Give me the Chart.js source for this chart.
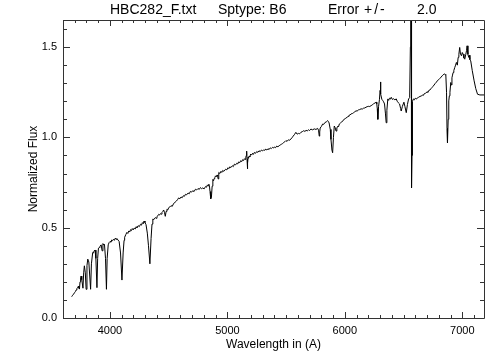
<!DOCTYPE html>
<html>
<head>
<meta charset="utf-8">
<script src="https://cdn.jsdelivr.net/npm/chart.js@4.4.1/dist/chart.umd.min.js"></script>
<style>
  html, body { margin: 0; padding: 0; background: #fff; }
  #wrap { width: 504px; height: 360px; }
</style>
</head>
<body>
<div id="wrap"><canvas id="spec"></canvas></div>
<script>
// spectrum (Angstrom, normalized flux)
const wavelength = [
  3674, 3682, 3690, 3698, 3705, 3712, 3718, 3725, 3731, 3736,
  3740, 3745, 3750, 3754, 3760, 3770, 3776, 3782, 3790, 3797,
  3804, 3811, 3820, 3835, 3842, 3853, 3860, 3865, 3873, 3880,
  3889, 3895, 3902, 3910, 3915, 3925, 3933, 3940, 3947, 3953,
  3962, 3970, 3976, 3985, 3993, 4001, 4008, 4015, 4022, 4030,
  4038, 4045, 4052, 4059, 4068, 4078, 4090, 4102, 4112, 4120,
  4125, 4135, 4144, 4152, 4160, 4168, 4175, 4183, 4190, 4198,
  4206, 4215, 4223, 4230, 4240, 4250, 4260, 4268, 4276, 4284,
  4290, 4298, 4307, 4318, 4328, 4340, 4350, 4358, 4365, 4374,
  4386, 4394, 4400, 4408, 4415, 4422, 4430, 4437, 4443, 4450,
  4457, 4464, 4471, 4478, 4485, 4492, 4500, 4510, 4520, 4530,
  4543, 4553, 4565, 4575, 4585, 4595, 4605, 4615, 4625, 4634,
  4643, 4653, 4665, 4675, 4685, 4695, 4705, 4716, 4728, 4738,
  4750, 4760, 4770, 4780, 4790, 4802, 4814, 4822, 4830, 4836,
  4842, 4848, 4852, 4858, 4864, 4870, 4876, 4882, 4887, 4893,
  4899, 4905, 4912, 4917, 4921, 4925, 4928, 4936, 4945, 4952,
  4960, 4970, 4985, 4995, 5005, 5012, 5020, 5030, 5042, 5050,
  5060, 5070, 5080, 5088, 5095, 5105, 5113, 5122, 5130, 5138,
  5145, 5150, 5156, 5161, 5164, 5167, 5170, 5173, 5176, 5180,
  5185, 5191, 5198, 5206, 5215, 5222, 5230, 5240, 5250, 5259,
  5269, 5279, 5290, 5300, 5310, 5318, 5327, 5336, 5345, 5355,
  5365, 5374, 5384, 5392, 5400, 5410, 5420, 5430, 5441, 5450,
  5460, 5470, 5480, 5489, 5498, 5508, 5520, 5530, 5540, 5550,
  5560, 5570, 5583, 5594, 5605, 5615, 5626, 5638, 5650, 5660,
  5670, 5680, 5690, 5700, 5711, 5725, 5740, 5754, 5768, 5776,
  5782, 5786, 5790, 5800, 5811, 5820, 5830, 5842, 5854, 5860,
  5866, 5876, 5882, 5890, 5896, 5903, 5910, 5917, 5925, 5932,
  5940, 5946, 5953, 5963, 5975, 5985, 5996, 6008, 6020, 6028,
  6035, 6044, 6053, 6064, 6075, 6085, 6095, 6105, 6115, 6126,
  6138, 6149, 6160, 6170, 6180, 6190, 6200, 6212, 6224, 6235,
  6245, 6256, 6267, 6272, 6276, 6281, 6287, 6295, 6300, 6303,
  6307, 6315, 6322, 6330, 6338, 6346, 6352, 6358, 6366, 6373,
  6380, 6388, 6395, 6405, 6415, 6426, 6438, 6446, 6455, 6466,
  6475, 6480, 6490, 6503, 6512, 6523, 6533, 6543, 6552, 6558,
  6561, 6564, 6567, 6569, 6572, 6576, 6584, 6592, 6600, 6609,
  6618, 6628, 6640, 6650, 6660, 6668, 6675, 6688, 6700, 6708,
  6715, 6724, 6732, 6741, 6750, 6760, 6770, 6780, 6789, 6800,
  6810, 6820, 6830, 6838, 6846, 6853, 6860, 6866, 6870, 6874,
  6880, 6885, 6890, 6895, 6902, 6907, 6912, 6917, 6922, 6928,
  6936, 6943, 6950, 6958, 6965, 6971, 6978, 6985, 6993, 7000,
  7007, 7014, 7021, 7030, 7036, 7041, 7048, 7055, 7060, 7065,
  7072, 7085, 7101, 7115, 7130, 7150, 7185
];
const flux = [
  0.118, 0.126, 0.132, 0.140, 0.146, 0.155, 0.162, 0.170, 0.176, 0.165,
  0.160, 0.200, 0.225, 0.232, 0.212, 0.165, 0.250, 0.289, 0.250, 0.159,
  0.290, 0.326, 0.310, 0.159, 0.300, 0.363, 0.360, 0.372, 0.376, 0.330,
  0.168, 0.330, 0.387, 0.390, 0.398, 0.405, 0.372, 0.412, 0.404, 0.408,
  0.330, 0.159, 0.330, 0.405, 0.418, 0.424, 0.420, 0.432, 0.428, 0.436,
  0.430, 0.442, 0.436, 0.440, 0.432, 0.424, 0.360, 0.210, 0.360, 0.430,
  0.447, 0.462, 0.474, 0.468, 0.482, 0.476, 0.489, 0.484, 0.495, 0.488,
  0.498, 0.493, 0.505, 0.500, 0.511, 0.506, 0.519, 0.514, 0.528, 0.522,
  0.537, 0.528, 0.517, 0.470, 0.400, 0.300, 0.440, 0.520, 0.548, 0.545,
  0.556, 0.552, 0.562, 0.566, 0.574, 0.570, 0.578, 0.575, 0.585, 0.590,
  0.598, 0.585, 0.563, 0.590, 0.602, 0.598, 0.611, 0.615, 0.622, 0.618,
  0.635, 0.640, 0.647, 0.655, 0.665, 0.660, 0.670, 0.666, 0.677, 0.674,
  0.685, 0.682, 0.692, 0.688, 0.701, 0.697, 0.705, 0.700, 0.713, 0.709,
  0.717, 0.712, 0.722, 0.716, 0.720, 0.715, 0.728, 0.724, 0.737, 0.732,
  0.741, 0.725, 0.700, 0.660, 0.670, 0.730, 0.767, 0.760, 0.772, 0.778,
  0.787, 0.782, 0.792, 0.785, 0.770, 0.795, 0.806, 0.800, 0.812, 0.806,
  0.817, 0.812, 0.824, 0.820, 0.832, 0.827, 0.837, 0.833, 0.843, 0.838,
  0.852, 0.848, 0.857, 0.853, 0.864, 0.860, 0.871, 0.866, 0.877, 0.872,
  0.882, 0.878, 0.889, 0.900, 0.924, 0.880, 0.826, 0.860, 0.890, 0.885,
  0.897, 0.892, 0.908, 0.902, 0.912, 0.906, 0.917, 0.912, 0.922, 0.917,
  0.926, 0.921, 0.930, 0.925, 0.932, 0.928, 0.935, 0.930, 0.937, 0.933,
  0.942, 0.938, 0.945, 0.941, 0.947, 0.943, 0.952, 0.948, 0.954, 0.958,
  0.962, 0.966, 0.972, 0.976, 0.982, 0.978, 0.987, 0.984, 0.991, 0.998,
  1.007, 1.015, 1.028, 1.018, 1.022, 1.020, 1.028, 1.032, 1.037, 1.033,
  1.039, 1.036, 1.042, 1.038, 1.046, 1.042, 1.047, 1.044, 1.050, 1.040,
  1.007, 1.030, 1.052, 1.060, 1.074, 1.072, 1.082, 1.086, 1.093, 1.088,
  1.080, 1.044, 0.989, 0.930, 0.915, 1.000, 1.063, 1.055, 1.035, 1.052,
  1.062, 1.058, 1.074, 1.080, 1.087, 1.092, 1.102, 1.106, 1.112, 1.116,
  1.122, 1.124, 1.130, 1.132, 1.137, 1.142, 1.147, 1.146, 1.152, 1.154,
  1.158, 1.157, 1.162, 1.163, 1.167, 1.170, 1.172, 1.171, 1.176, 1.180,
  1.187, 1.190, 1.195, 1.185, 1.160, 1.100, 1.170, 1.211, 1.260, 1.307,
  1.240, 1.211, 1.205, 1.197, 1.185, 1.130, 1.081, 1.150, 1.213, 1.205,
  1.217, 1.212, 1.222, 1.210, 1.214, 1.208, 1.213, 1.200, 1.192, 1.185,
  1.160, 1.146, 1.172, 1.195, 1.170, 1.137, 1.182, 1.213, 1.220, 1.500,
  2.200, 2.400, 1.600, 0.720, 0.900, 1.200, 1.213, 1.208, 1.217, 1.212,
  1.219, 1.222, 1.227, 1.229, 1.234, 1.232, 1.241, 1.245, 1.252, 1.250,
  1.260, 1.262, 1.269, 1.275, 1.282, 1.290, 1.299, 1.306, 1.315, 1.320,
  1.327, 1.334, 1.342, 1.346, 1.352, 1.348, 1.345, 1.250, 1.050, 0.970,
  1.100, 1.202, 1.230, 1.250, 1.304, 1.290, 1.330, 1.345, 1.359, 1.370,
  1.387, 1.400, 1.415, 1.400, 1.443, 1.460, 1.498, 1.460, 1.452, 1.470,
  1.461, 1.440, 1.433, 1.460, 1.480, 1.507, 1.460, 1.443, 1.455, 1.430,
  1.424, 1.370, 1.313, 1.270, 1.239, 1.235, 1.235
];
const xTickLabels = ["4000", "5000", "6000", "7000"];
const yTickLabels = ["0.0", "0.5", "1.0", "1.5"];
// header pieces, IDL puts them at fixed spots along the top
const titleParts = ["HBC282_F.txt", "Sptype: B6", "Error", "+/-", "2.0"];
const titleX = [110, 218, 328, 364, 417];

const FONT = "'Liberation Sans', Arial, Helvetica, sans-serif";

// IDL style box: ticks pointing inward on all four sides, header on top
const idlBox = {
  id: "idlBox",
  afterDraw(chart) {
    const { ctx, chartArea: a, scales: { x, y } } = chart;
    ctx.save();
    ctx.strokeStyle = "#333";
    ctx.lineWidth = 1;
    ctx.beginPath();
    ctx.rect(Math.round(a.left) + 0.5, Math.round(a.top) + 0.5,
             Math.round(a.right - a.left), Math.round(a.bottom - a.top));
    x.ticks.forEach(t => {
      const px = Math.round(x.getPixelForValue(t.value)) + 0.5;
      const len = t.label ? 6 : 3;
      ctx.moveTo(px, a.bottom); ctx.lineTo(px, a.bottom - len);
      ctx.moveTo(px, a.top); ctx.lineTo(px, a.top + len);
    });
    y.ticks.forEach(t => {
      const py = Math.round(y.getPixelForValue(t.value)) + 0.5;
      const len = t.label ? 7 : 4;
      ctx.moveTo(a.left, py); ctx.lineTo(a.left + len, py);
      ctx.moveTo(a.right, py); ctx.lineTo(a.right - len, py);
    });
    ctx.stroke();

    ctx.fillStyle = "#000";
    ctx.font = "14px " + FONT;
    ctx.textBaseline = "middle";
    ctx.textAlign = "left";
    titleParts.forEach((s, i) => {
      ctx.letterSpacing = s === "+/-" ? "2px" : "0px";
      ctx.fillText(s, titleX[i], 10);
    });
    ctx.restore();
  }
};

new Chart(document.getElementById("spec"), {
  type: "line",
  data: {
    datasets: [{
      data: wavelength.map((w, i) => ({ x: w, y: flux[i] })),
      borderColor: "#000",
      borderWidth: 1,
      pointRadius: 0,
      tension: 0,
      fill: false
    }]
  },
  options: {
    responsive: true,
    maintainAspectRatio: false,
    devicePixelRatio: 1,
    animation: false,
    layout: { padding: { top: 20, right: 20, left: 0, bottom: 0 } },
    plugins: {
      legend: { display: false },
      tooltip: { enabled: false },
      title: { display: false }
    },
    scales: {
      x: {
        type: "linear",
        min: 3600,
        max: 7185,
        afterFit: s => { s.height = 42; },
        grid: { display: false, drawTicks: false },
        border: { display: false },
        ticks: {
          stepSize: 100,
          autoSkip: false,
          maxRotation: 0,
          includeBounds: false,
          padding: 6,
          color: "#000",
          font: { family: FONT, size: 11 },
          callback: v => xTickLabels.includes(String(Math.round(v))) && Math.abs(v % 1000) < 1e-6 ? String(Math.round(v)) : ""
        },
        title: {
          display: true,
          text: "Wavelength in (A)",
          color: "#000",
          font: { family: FONT, size: 12 },
          padding: { top: 0, bottom: 8 }
        }
      },
      y: {
        min: 0,
        max: 1.65,
        afterFit: s => { s.width = 63; },
        grid: { display: false, drawTicks: false },
        border: { display: false },
        ticks: {
          stepSize: 0.1,
          autoSkip: false,
          includeBounds: false,
          padding: 6,
          color: "#000",
          font: { family: FONT, size: 11 },
          callback: v => yTickLabels.includes(v.toFixed(1)) && Math.abs(v * 2 - Math.round(v * 2)) < 1e-6 ? v.toFixed(1) : ""
        },
        title: {
          display: true,
          text: "Normalized Flux",
          color: "#000",
          font: { family: FONT, size: 12 },
          padding: { top: 26, bottom: 0 }
        }
      }
    }
  },
  plugins: [idlBox]
});
</script>
</body>
</html>
